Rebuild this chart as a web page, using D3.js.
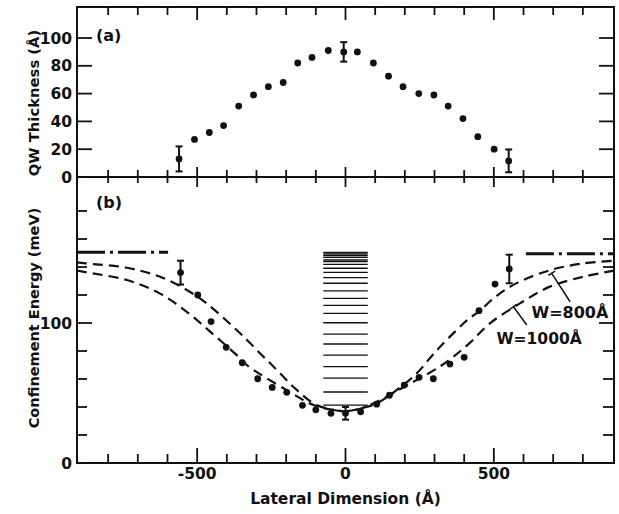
<!DOCTYPE html>
<html>

<head>
    <meta charset="utf-8">
    <style>
        body {
            margin: 0;
            background: white;
        }

        text {
            font-family: 'DejaVu Sans', Arial, sans-serif;
            font-weight: bold;
            fill: #111;
        }
    </style>
</head>

<body>
    <svg width="619" height="514"></svg>
</body>

<script src="https://d3js.org/d3.v7.min.js"></script>

<script>
    // panel (a): QW thickness vs lateral position
    let thickX = [-561, -509, -459, -411, -360, -310, -260, -210, -161, -113, -58, -6, 40, 94, 145, 194, 247, 298, 346, 396, 446, 501, 550]
    let thickY = [13, 27, 32, 37, 51, 59, 65, 68, 82, 86, 91, 90, 90, 82, 72.5, 65, 60, 59, 51, 42, 29, 20, 11.6]
    // error bars (x, value, half height)
    let thickErrX = [-561, -6, 550]
    let thickErrY = [13, 90, 11.6]
    let thickErrH = [9, 7, 8.2]

    // panel (b): confinement energy
    let energyX = [-556, -498, -453, -402, -348, -296, -247, -198, -145, -100, -49, 0, 51, 105, 148, 198, 248, 296, 352, 400, 450, 504, 552]
    let energyY = [136, 120, 101, 82.6, 71.6, 60.2, 54, 50.5, 41.2, 38, 35.5, 35.5, 36.6, 42, 48.4, 55.7, 61.2, 60.2, 70.7, 75.5, 108.8, 127.8, 138.6]
    let energyErrX = [-556, 0, 552]
    let energyErrY = [136, 35.5, 138.6]
    let energyErrH = [8.5, 4.5, 10.2]

    // dashed model curves
    let w800X = [-905, -877, -737, -625, -535, -468, -367, -321, -277, -243, -176, -108, -63, 0, 60, 105, 172, 240, 285, 319, 370, 410, 454, 504, 577, 689, 801, 905]
    let w800Y = [143.3, 142.6, 139.5, 133, 123.6, 114, 95, 85.5, 76, 69, 54.5, 42.6, 39, 37, 39.5, 42.5, 52, 64, 75, 83, 94, 102, 109, 118.5, 128.5, 137.7, 142.6, 144.5]
    let w1000X = [-905, -877, -737, -625, -535, -457, -356, -333, -198, -108, -42, 0, 60, 229, 319, 364, 420, 487, 588, 689, 801, 905]
    let w1000Y = [137.5, 136.3, 130.7, 121, 108, 94, 75, 70, 52, 41.4, 38, 37, 39.5, 58, 69, 76, 86, 99.8, 114, 126, 133, 137.4]

    // barrier (dash-dot) segments
    let barrierX1 = [-905, 608]
    let barrierX2 = [-598, 905]
    let barrierY = [150.5, 149.5]

    // energy levels drawn in the centre
    let levels = [150.5, 149.3, 148.1, 146.9, 145, 143.8, 141.9, 139.1, 136.2, 132.4, 128.4, 122.9, 117.6, 112.6, 106.9, 100.2, 92.1, 85, 77.1, 68.8, 60.7, 50.7, 41.4]
    let levelHalfWidth = 75

    let xTicks = [-800, -700, -600, -500, -400, -300, -200, -100, 0, 100, 200, 300, 400, 500, 600, 700, 800]
    let xLabels = [-500, 0, 500]
    let thickTicks = [0, 20, 40, 60, 80, 100]
    let energyTicks = [20, 40, 60, 80, 100, 120, 140, 160, 180]
    let energyLabels = [0, 100]

    let svg = d3.select("svg")

    let pLeft = 77, pRight = 614, pTop = 7, pMid = 177, pBottom = 463

    let x = d3.scaleLinear().domain([-905, 905]).range([pLeft, pRight])
    let ya = d3.scaleLinear().domain([0, 122.3]).range([pMid, pTop])
    let yb = d3.scaleLinear().domain([0, 204.3]).range([pBottom, pMid])

    let ink = "#111"

    // frame
    svg.append("rect")
        .attr("x", pLeft).attr("y", pTop)
        .attr("width", pRight - pLeft).attr("height", pBottom - pTop)
        .style("fill", "none").style("stroke", ink).style("stroke-width", 2)
    svg.append("line")
        .attr("x1", pLeft).attr("x2", pRight).attr("y1", pMid).attr("y2", pMid)
        .style("stroke", ink).style("stroke-width", 2)

    let major = d => d % 500 == 0

    // x ticks: top edge (down), middle (both ways), bottom (up)
    let tickG = svg.append("g").style("stroke", ink).style("stroke-width", 1.8)
    tickG.selectAll(".xt-top").data(xTicks).join("line")
        .attr("x1", d => x(d)).attr("x2", d => x(d))
        .attr("y1", pTop).attr("y2", d => pTop + (major(d) ? 13 : 8))
    tickG.selectAll(".xt-mid").data(xTicks).join("line")
        .attr("x1", d => x(d)).attr("x2", d => x(d))
        .attr("y1", d => pMid - (major(d) ? 10 : 7)).attr("y2", d => pMid + (major(d) ? 10 : 6))
    tickG.selectAll(".xt-bot").data(xTicks).join("line")
        .attr("x1", d => x(d)).attr("x2", d => x(d))
        .attr("y1", pBottom).attr("y2", d => pBottom - (major(d) ? 15 : 9))

    // y ticks, left and right
    tickG.selectAll(".ya-l").data(thickTicks.slice(1)).join("line")
        .attr("x1", pLeft).attr("x2", pLeft + 15)
        .attr("y1", d => ya(d)).attr("y2", d => ya(d))
    tickG.selectAll(".ya-r").data(thickTicks.slice(1)).join("line")
        .attr("x1", pRight).attr("x2", pRight - 15)
        .attr("y1", d => ya(d)).attr("y2", d => ya(d))
    tickG.selectAll(".yb-l").data(energyTicks).join("line")
        .attr("x1", pLeft).attr("x2", d => pLeft + (d == 100 ? 15 : 10))
        .attr("y1", d => yb(d)).attr("y2", d => yb(d))
    tickG.selectAll(".yb-r").data(energyTicks).join("line")
        .attr("x1", pRight).attr("x2", d => pRight - (d == 100 ? 15 : 11))
        .attr("y1", d => yb(d)).attr("y2", d => yb(d))

    // tick labels
    svg.selectAll(".xl").data(xLabels).join("text")
        .attr("x", d => x(d)).attr("y", 478.5)
        .attr("text-anchor", "middle").style("font-size", "15.5px")
        .text(d => d)
    svg.selectAll(".yal").data(thickTicks).join("text")
        .attr("x", 72).attr("y", d => ya(d)).attr("dy", "0.36em")
        .attr("text-anchor", "end").style("font-size", "15.5px")
        .text(d => d)
    svg.selectAll(".ybl").data(energyLabels).join("text")
        .attr("x", 72).attr("y", d => yb(d)).attr("dy", "0.36em")
        .attr("text-anchor", "end").style("font-size", "15.5px")
        .text(d => d)

    // axis titles
    svg.append("text")
        .attr("x", 345.5).attr("y", 503.5)
        .attr("text-anchor", "middle").style("font-size", "15.5px")
        .text("Lateral Dimension (Å)")
    svg.append("text")
        .attr("transform", "translate(39," + 103 + ") rotate(-90)")
        .attr("text-anchor", "middle").style("font-size", "14.8px")
        .text("QW Thickness (Å)")
    svg.append("text")
        .attr("transform", "translate(39," + 318 + ") rotate(-90)")
        .attr("text-anchor", "middle").style("font-size", "14.5px")
        .text("Confinement Energy (meV)")

    svg.append("text").attr("x", 96).attr("y", 40.5).style("font-size", "16px").text("(a)")
    svg.append("text").attr("x", 96).attr("y", 207.5).style("font-size", "16px").text("(b)")

    // energy levels
    svg.append("g").selectAll("line").data(levels).join("line")
        .attr("x1", x(-levelHalfWidth)).attr("x2", x(levelHalfWidth))
        .attr("y1", d => yb(d)).attr("y2", d => yb(d))
        .style("stroke", ink).style("stroke-width", 1.3)

    // barrier dash-dot lines
    svg.append("g").selectAll("line").data(barrierY).join("line")
        .attr("x1", (d, i) => x(barrierX1[i])).attr("x2", (d, i) => x(barrierX2[i]))
        .attr("y1", d => yb(d)).attr("y2", d => yb(d))
        .style("stroke", ink).style("stroke-width", 3)
        .style("stroke-dasharray", "28,5,3,5")

    // dashed curves
    let line = d3.line()
        .x(d => x(d[0]))
        .y(d => yb(d[1]))
        .curve(d3.curveCatmullRom)

    let curves = [d3.zip(w800X, w800Y), d3.zip(w1000X, w1000Y)]
    svg.append("g").selectAll("path").data(curves).join("path")
        .attr("d", line)
        .style("fill", "none").style("stroke", ink).style("stroke-width", 2.2)
        .style("stroke-dasharray", "10,6")

    // leaders + labels
    let leaders = [
        { x1: 695, e1: 135.5, x2: 757, e2: 115.2 },
        { x1: 566, e1: 111.6, x2: 611, e2: 98.6 }
    ]
    leaders.forEach(l => {
        let px1 = x(l.x1), py1 = yb(l.e1), px2 = x(l.x2), py2 = yb(l.e2)
        svg.append("line")
            .attr("x1", px1).attr("y1", py1).attr("x2", px2).attr("y2", py2)
            .style("stroke", ink).style("stroke-width", 1.5)
        // little crossbar at the curve end
        let dx = px2 - px1, dy = py2 - py1, len = Math.sqrt(dx * dx + dy * dy)
        let nx = -dy / len * 4, ny = dx / len * 4
        svg.append("line")
            .attr("x1", px1 - nx).attr("y1", py1 - ny).attr("x2", px1 + nx).attr("y2", py1 + ny)
            .style("stroke", ink).style("stroke-width", 1.5)
    })

    svg.append("text").attr("x", 531.5).attr("y", 317.5).style("font-size", "16px").text("W=800Å")
    svg.append("text").attr("x", 496.5).attr("y", 343.5).style("font-size", "15.5px").text("W=1000Å")

    // error bars
    function errorBars(xs, ys, hs, yScale) {
        let g = svg.append("g").style("stroke", ink).style("stroke-width", 2)
        xs.forEach((d, i) => {
            let cx = x(d)
            let y1 = yScale(ys[i] - hs[i]), y2 = yScale(ys[i] + hs[i])
            g.append("line").attr("x1", cx).attr("x2", cx).attr("y1", y1).attr("y2", y2)
            g.append("line").attr("x1", cx - 3.5).attr("x2", cx + 3.5).attr("y1", y1).attr("y2", y1)
            g.append("line").attr("x1", cx - 3.5).attr("x2", cx + 3.5).attr("y1", y2).attr("y2", y2)
        })
    }
    errorBars(thickErrX, thickErrY, thickErrH, ya)
    errorBars(energyErrX, energyErrY, energyErrH, yb)

    // points
    svg.append("g").selectAll("circle").data(d3.zip(thickX, thickY)).join("circle")
        .attr("cx", d => x(d[0])).attr("cy", d => ya(d[1])).attr("r", 3.4)
        .style("fill", ink)
    svg.append("g").selectAll("circle").data(d3.zip(energyX, energyY)).join("circle")
        .attr("cx", d => x(d[0])).attr("cy", d => yb(d[1])).attr("r", 3.4)
        .style("fill", ink)
</script>

</html>
